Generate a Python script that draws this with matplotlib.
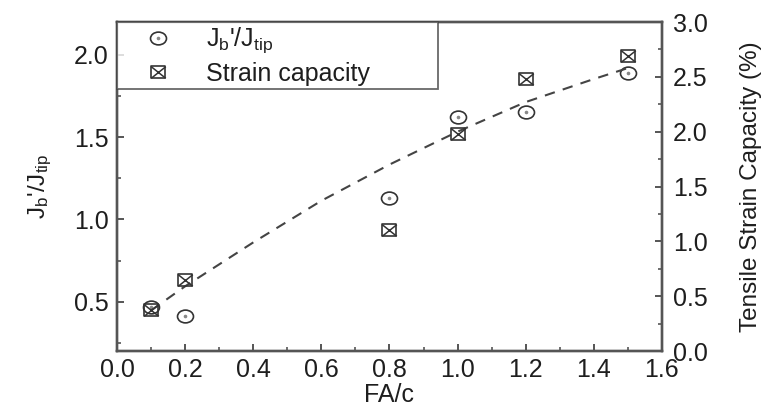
import numpy as np
import matplotlib
matplotlib.use('Agg')
import matplotlib.pyplot as plt
from matplotlib.path import Path
from matplotlib.transforms import Affine2D
from matplotlib.lines import Line2D
from matplotlib.ticker import MultipleLocator

plt.rcParams['font.family'] = ['Liberation Sans', 'DejaVu Sans']
plt.rcParams['mathtext.fontset'] = 'custom'
plt.rcParams['mathtext.rm'] = 'Liberation Sans'
plt.rcParams['mathtext.it'] = 'Liberation Sans'

# data
fa_c = [0.1, 0.2, 0.8, 1.0, 1.2, 1.5]
jb_jtip = [0.47, 0.41, 1.13, 1.62, 1.65, 1.89]
strain_cap = [0.37, 0.65, 1.10, 1.98, 2.48, 2.69]

# dashed trend line (right axis)
trend_x = [0.1, 0.2, 0.4, 0.6, 0.8, 1.0, 1.2, 1.4, 1.5]
trend_y = [0.37, 0.59, 0.99, 1.37, 1.70, 2.00, 2.27, 2.48, 2.58]

ink = '#333333'
txt = '#1e1e1e'
spine_col = '#555555'

# markers look a bit squashed in the original (image was stretched sideways)
squash = Affine2D().scale(1.0, 0.8)
ell = squash.transform_path(Path.unit_circle())
box = squash.transform_path(Path([(-1, -1), (1, -1), (1, 1), (-1, 1), (-1, -1)],
                                 [Path.MOVETO, Path.LINETO, Path.LINETO, Path.LINETO, Path.CLOSEPOLY]))
cross = squash.transform_path(Path([(-1, -1), (1, 1), (-1, 1), (1, -1)],
                                   [Path.MOVETO, Path.LINETO, Path.MOVETO, Path.LINETO]))

fig = plt.figure(figsize=(7.67, 4.12), dpi=100)
ax = fig.add_axes([0.1525, 0.148, 0.7105, 0.7986])
ax2 = ax.twinx()

ms = 11.5
ax.plot(fa_c, jb_jtip, ls='none', marker=ell, ms=ms, mfc='none', mec=ink, mew=1.2)
ax.plot(fa_c, jb_jtip, ls='none', marker='o', ms=1.6, mfc='#888888', mec='#888888')

ax2.plot(trend_x, trend_y, ls=(0, (5, 4)), color='#444444', lw=1.5)
ax2.plot(fa_c, strain_cap, ls='none', marker=box, ms=10.5, mfc='none', mec=ink, mew=1.2)
ax2.plot(fa_c, strain_cap, ls='none', marker=cross, ms=10.5, mfc='none', mec=ink, mew=1.1)

ax.set_xlim(0.0, 1.6)
ax.set_ylim(0.2, 2.2)
ax2.set_ylim(0.0, 3.0)

ax.xaxis.set_major_locator(MultipleLocator(0.2))
ax.xaxis.set_minor_locator(MultipleLocator(0.1))
ax.yaxis.set_major_locator(MultipleLocator(0.5))
ax.yaxis.set_minor_locator(MultipleLocator(0.25))
ax2.yaxis.set_major_locator(MultipleLocator(0.5))
ax2.yaxis.set_minor_locator(MultipleLocator(0.25))

fs = 18
for a in (ax, ax2):
    for s in a.spines.values():
        s.set_color(spine_col)
        s.set_linewidth(1.7)
    a.tick_params(which='major', direction='in', length=5, width=1.4, color=spine_col,
                  labelsize=fs, labelcolor=txt, pad=6)
    a.tick_params(which='minor', direction='in', length=3, width=1.2, color=spine_col)
ax.tick_params(axis='x', pad=5)
ax.tick_params(axis='y', right=False, which='both')
ax2.tick_params(axis='y', pad=8)

ax.set_xticklabels([f'{v:.1f}' for v in ax.get_xticks()])
ax.set_xlabel('FA/c', fontsize=fs, color=txt, labelpad=1)
ax.set_ylabel("J$_b$'/J$_{tip}$", fontsize=17.5, color=txt, labelpad=14)
ax2.set_ylabel('Tensile Strain Capacity (%)', fontsize=17.5, color=txt, labelpad=23)

h1 = (Line2D([], [], ls='none', marker=ell, ms=ms, mfc='none', mec=ink, mew=1.2),
      Line2D([], [], ls='none', marker='o', ms=1.6, mfc='#888888', mec='#888888'))
h2 = (Line2D([], [], ls='none', marker=box, ms=10.5, mfc='none', mec=ink, mew=1.2),
      Line2D([], [], ls='none', marker=cross, ms=10.5, mfc='none', mec=ink, mew=1.1))
leg = ax2.legend([h1, h2], ["J$_b$'/J$_{tip}$", 'Strain capacity'],
                 loc='upper left', bbox_to_anchor=(0.0, 0.784, 0.589, 0.216), mode='expand',
                 borderaxespad=0, fontsize=fs, frameon=True, fancybox=False,
                 handlelength=3.0, handletextpad=0.4, labelspacing=0.25, borderpad=0.15,
                 labelcolor=txt)
leg.get_frame().set_edgecolor('#444444')
leg.get_frame().set_linewidth(1.3)

fig.savefig('out.png', dpi=100)
